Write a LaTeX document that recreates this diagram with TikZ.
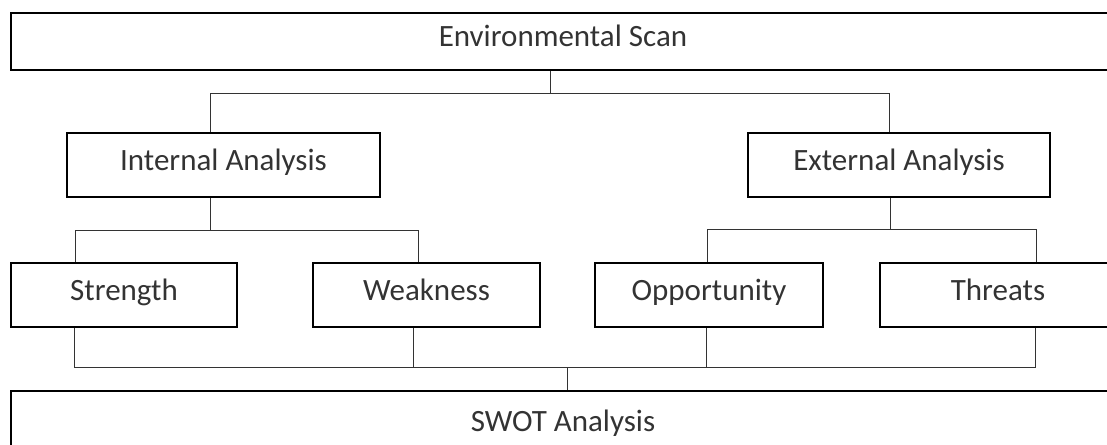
\documentclass[tikz,border=0pt]{standalone}
\usepackage{fontspec}
\setmainfont{Carlito}
\begin{document}
\begin{tikzpicture}[x=1pt,y=-1pt,
  box/.style={draw=black, line width=2.2pt, rectangle, inner sep=0pt,
    font=\fontsize{31}{36}\selectfont, text=black!80,
    text height=21pt, text depth=10pt},
  conn/.style={draw=black!80, line width=1pt}]
\useasboundingbox (0,0) rectangle (1107,444);
\clip (0,0) rectangle (1107,444);
% boxes
\node[box, minimum width=1104pt, minimum height=57pt] (env) at (563,41.5) {Environmental Scan};
\node[box, minimum width=313pt, minimum height=64pt] (int) at (223.5,165) {Internal Analysis};
\node[box, minimum width=302pt, minimum height=64pt] (ext) at (899,165) {External Analysis};
\node[box, minimum width=226pt, minimum height=64pt] (str) at (124,295) {Strength};
\node[box, minimum width=227pt, minimum height=64pt] (wea) at (426.5,295) {Weakness};
\node[box, minimum width=228pt, minimum height=64pt] (opp) at (709,295) {Opportunity};
\node[box, minimum width=236pt, minimum height=64pt] (thr) at (998,295) {Threats};
\node[box, minimum width=1104pt, minimum height=70pt] (swot) at (563,426) {SWOT Analysis};
% junction coordinates
\coordinate (j1) at (550,93);
\coordinate (j1l) at (210,93);
\coordinate (j1r) at (889,93);
\coordinate (j2) at (210,230);
\coordinate (j2l) at (75,230);
\coordinate (j2r) at (418,230);
\coordinate (j3) at (890,229);
\coordinate (j3l) at (707,229);
\coordinate (j3r) at (1036,229);
\coordinate (b1) at (74,367);
\coordinate (b2) at (413,367);
\coordinate (b3) at (706,367);
\coordinate (b4) at (1035,367);
\coordinate (b0) at (567,367);
% connectors
\draw[conn] (j1 |- env.south) -- (j1);
\draw[conn] (int.north -| j1l) -- (j1l) -- (j1r) -- (ext.north -| j1r);
\draw[conn] (int.south -| j2) -- (j2);
\draw[conn] (str.north -| j2l) -- (j2l) -- (j2r) -- (wea.north -| j2r);
\draw[conn] (ext.south -| j3) -- (j3);
\draw[conn] (opp.north -| j3l) -- (j3l) -- (j3r) -- (thr.north -| j3r);
\draw[conn] (str.south -| b1) -- (b1) -- (b4) -- (thr.south -| b4);
\draw[conn] (wea.south -| b2) -- (b2);
\draw[conn] (opp.south -| b3) -- (b3);
\draw[conn] (b0) -- (swot.north -| b0);
\end{tikzpicture}
\end{document}
